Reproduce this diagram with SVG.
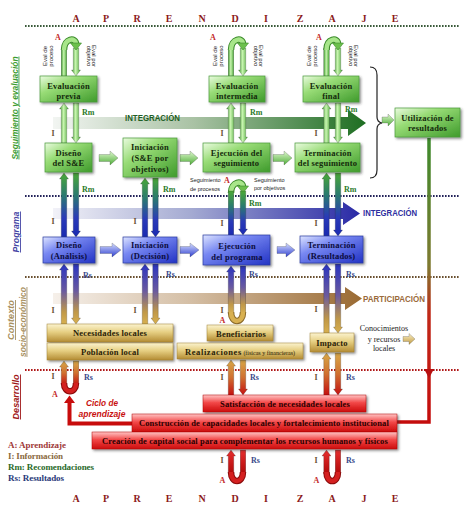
<svg xmlns="http://www.w3.org/2000/svg" width="474" height="517" viewBox="0 0 474 517">
<defs>
<style>
.bt{font-family:"Liberation Serif",serif;font-weight:bold;font-size:8.5px;text-anchor:middle;letter-spacing:0.2px}
.gt{fill:#142a0c}.blt{fill:#0c0c3c}.yt{fill:#2a1e08}.rt{fill:#2a0000}
.lbl{font-family:"Liberation Serif",serif;font-weight:bold;font-size:8px}
.I{fill:#6a5232}.Rm{fill:#2a7a2a}.Rs{fill:#3a4a8a}.A{fill:#c42a2a}
.ap{font-family:"Liberation Serif",serif;font-weight:bold;font-size:10px;fill:#8c1a1a;text-anchor:middle}
.ev{font-family:"Liberation Sans",sans-serif;font-size:6px;fill:#222;text-anchor:middle}
.side{font-family:"Liberation Sans",sans-serif;font-style:italic;font-weight:bold;font-size:9px;text-anchor:middle;text-decoration:underline}
.big{font-family:"Liberation Sans",sans-serif;font-weight:bold;font-size:9.5px}
.dot{fill:none;stroke-width:2;stroke-dasharray:1.6 1.4}
.box{filter:url(#sh)}
.arw{stroke:#222;stroke-opacity:0.45;stroke-width:0.5}
.leg{font-family:"Liberation Serif",serif;font-weight:bold;font-size:9px}
.seg{font-family:"Liberation Sans",sans-serif;font-size:5.5px;fill:#222}
</style>
<linearGradient id="bxG" x1="0" y1="0" x2="1" y2="1"><stop offset="0" stop-color="#eafbe0"/><stop offset="0.35" stop-color="#98dc76"/><stop offset="1" stop-color="#3f9b2c"/></linearGradient>
<linearGradient id="bxB" x1="0" y1="0" x2="1" y2="1"><stop offset="0" stop-color="#dde4ff"/><stop offset="0.35" stop-color="#7888f2"/><stop offset="1" stop-color="#2233c4"/></linearGradient>
<linearGradient id="bxY" x1="0" y1="0" x2="0" y2="1"><stop offset="0" stop-color="#fbf3cf"/><stop offset="0.45" stop-color="#e6cf82"/><stop offset="1" stop-color="#b48c34"/></linearGradient>
<linearGradient id="bxR" x1="0" y1="0" x2="0" y2="1"><stop offset="0" stop-color="#ffc4c4"/><stop offset="0.45" stop-color="#f24848"/><stop offset="1" stop-color="#cc0a0a"/></linearGradient>
<linearGradient id="aG" x1="0" y1="0" x2="1" y2="0"><stop offset="0" stop-color="#3d9a2c"/><stop offset="0.45" stop-color="#c8f4b0"/><stop offset="1" stop-color="#4aa836"/></linearGradient>
<linearGradient id="aGB" x1="0" y1="0" x2="0" y2="1"><stop offset="0" stop-color="#4aa836"/><stop offset="0.35" stop-color="#2a7a70"/><stop offset="0.7" stop-color="#2a3ab8"/><stop offset="1" stop-color="#1a2ab0"/></linearGradient>
<linearGradient id="aBY" x1="0" y1="0" x2="0" y2="1"><stop offset="0" stop-color="#2a34c0"/><stop offset="0.45" stop-color="#6a5aa0"/><stop offset="0.8" stop-color="#c09848"/><stop offset="1" stop-color="#d8b050"/></linearGradient>
<linearGradient id="aYR" x1="0" y1="0" x2="0" y2="1"><stop offset="0" stop-color="#d8a848"/><stop offset="0.5" stop-color="#d07030"/><stop offset="1" stop-color="#c41010"/></linearGradient>
<linearGradient id="aR" x1="0" y1="0" x2="0" y2="1"><stop offset="0" stop-color="#e83030"/><stop offset="1" stop-color="#b00808"/></linearGradient>
<linearGradient id="hG" x1="0" y1="0" x2="1" y2="0"><stop offset="0" stop-color="#f2f5f2"/><stop offset="0.45" stop-color="#a9c2a4"/><stop offset="1" stop-color="#1e6e22"/></linearGradient>
<linearGradient id="hB" x1="0" y1="0" x2="1" y2="0"><stop offset="0" stop-color="#f2f2f8"/><stop offset="0.45" stop-color="#a4aad2"/><stop offset="1" stop-color="#2a2aa6"/></linearGradient>
<linearGradient id="hP" x1="0" y1="0" x2="1" y2="0"><stop offset="0" stop-color="#f6f0ea"/><stop offset="0.45" stop-color="#d4bea4"/><stop offset="1" stop-color="#9a6a32"/></linearGradient>
<linearGradient id="uLine" gradientUnits="userSpaceOnUse" x1="0" y1="137" x2="0" y2="422"><stop offset="0" stop-color="#3c8a2c"/><stop offset="0.45" stop-color="#7e7a30"/><stop offset="0.62" stop-color="#c02818"/><stop offset="1" stop-color="#c40c0c"/></linearGradient>
<linearGradient id="sG" x1="0" y1="0" x2="0" y2="1"><stop offset="0" stop-color="#e0f8d0"/><stop offset="1" stop-color="#4fae38"/></linearGradient>
<linearGradient id="sB" x1="0" y1="0" x2="0" y2="1"><stop offset="0" stop-color="#d8e0ff"/><stop offset="1" stop-color="#3040d0"/></linearGradient>
<linearGradient id="sY" x1="0" y1="0" x2="0" y2="1"><stop offset="0" stop-color="#fbf0c8"/><stop offset="1" stop-color="#c09a40"/></linearGradient>
<filter id="sh" x="-10%" y="-15%" width="130%" height="150%"><feDropShadow dx="1.5" dy="1.5" stdDeviation="0.8" flood-color="#333" flood-opacity="0.55"/></filter>
</defs>

<rect width="474" height="517" fill="#ffffff"/>

<!-- A P R E N D I Z A J E -->
<g id="aprendizaje-top" class="ap">
<text x="76" y="21.5">A</text><text x="106" y="21.5">P</text><text x="137" y="21.5">R</text><text x="169" y="21.5">E</text><text x="202" y="21.5">N</text><text x="235" y="21.5">D</text><text x="266" y="21.5">I</text><text x="300" y="21.5">Z</text><text x="332" y="21.5">A</text><text x="364" y="21.5">J</text><text x="395" y="21.5">E</text>
</g>
<g id="aprendizaje-bottom" class="ap">
<text x="76" y="501.5">A</text><text x="106" y="501.5">P</text><text x="137" y="501.5">R</text><text x="169" y="501.5">E</text><text x="202" y="501.5">N</text><text x="235" y="501.5">D</text><text x="266" y="501.5">I</text><text x="300" y="501.5">Z</text><text x="332" y="501.5">A</text><text x="364" y="501.5">J</text><text x="395" y="501.5">E</text>
</g>

<!-- dotted separators -->
<g id="separators">
<line class="dot" x1="25" y1="26" x2="460" y2="26" stroke="#3a5a3a"/>
<line class="dot" x1="25" y1="196" x2="460" y2="196" stroke="#23235a"/>
<line class="dot" x1="25" y1="277" x2="460" y2="277" stroke="#6a5030"/>
<line class="dot" x1="25" y1="370" x2="460" y2="370" stroke="#b01818"/>
</g>

<!-- side labels -->
<g id="side-labels">
<text class="side" fill="#3c9c30" transform="translate(17.5,108) rotate(-90)" textLength="103" lengthAdjust="spacingAndGlyphs">Seguimiento y evaluación</text>
<text class="side" fill="#4444a4" transform="translate(19,232) rotate(-90)" textLength="41" lengthAdjust="spacingAndGlyphs">Programa</text>
<text class="side" fill="#a89060" transform="translate(14,320) rotate(-90)" textLength="40" lengthAdjust="spacingAndGlyphs">Contexto</text>
<text class="side" fill="#a89060" transform="translate(25.5,322) rotate(-90)" textLength="70" lengthAdjust="spacingAndGlyphs">socio-económico</text>
<text class="side" fill="#a01818" transform="translate(19,397) rotate(-90)" textLength="45" lengthAdjust="spacingAndGlyphs">Desarrollo</text>
</g>

<g id="connectors">
<!-- big flow arrows -->
<path d="M53,117 H348 V110 L366,123 L348,136 V129 H53 Z" fill="url(#hG)"/>
<path d="M53,208 H343 V202 L360,213.5 L343,225 V219 H53 Z" fill="url(#hB)"/>
<path d="M53,293 H345 V287 L362,298.5 L345,310 V304 H53 Z" fill="url(#hP)"/>

<!-- utilizacion feedback line -->
<path d="M429,138 V422 H396" fill="none" stroke="url(#uLine)" stroke-width="3.5"/>
<polygon points="424,369 434,369 429,378" fill="#b81010"/>

<!-- ciclo de aprendizaje L arrow -->
<path d="M133,423.5 H69.5 V402" fill="none" stroke="#c80c0c" stroke-width="4"/>
<polygon points="64,403 75,403 69.5,395.5" fill="#c80c0c"/>

<!-- brace and arrow to Utilizacion -->
<path d="M370,67 Q377,67 377,75 L377,117 Q377,122 382,123 Q377,124 377,129 L377,170 Q377,178 370,178" fill="none" stroke="#222" stroke-width="1.2"/>
<path class="arw" d="M382,117 H388 V114 L394,120 L388,126 V123 H382 Z" fill="url(#sG)"/>

<!-- small horizontal arrows -->
<path class="arw" d="M99,154.5 H110 V151 L118,158 L110,165 V161.5 H99 Z" fill="url(#sG)"/>
<path class="arw" d="M180,154.5 H190 V151 L198,158 L190,165 V161.5 H180 Z" fill="url(#sG)"/>
<path class="arw" d="M273,154.5 H284 V151 L292,158 L284,165 V161.5 H273 Z" fill="url(#sG)"/>
<path class="arw" d="M100,246.5 H112 V243 L121,250 L112,257 V253.5 H100 Z" fill="url(#sB)"/>
<path class="arw" d="M180,246.5 H190 V243 L199,250 L190,257 V253.5 H180 Z" fill="url(#sB)"/>
<path class="arw" d="M277,246.5 H286 V243 L295,250 L286,257 V253.5 H277 Z" fill="url(#sB)"/>
<path class="arw" d="M403,336.5 H409 V333.5 L415,339 L409,344.5 V341.5 H403 Z" fill="url(#sY)"/>

<!-- top section: evaluation loops -->
<g fill="url(#aG)" class="arw">
<rect x="61.25" y="48" width="5.5" height="28"/>
<path d="M73.25,48V70H71.5L76,76L80.5,70H78.75V48Z"/>
<rect x="228.25" y="48" width="5.5" height="28"/>
<path d="M240.25,48V70H238.5L243,76L247.5,70H245.75V48Z"/>
<rect x="323.75" y="48" width="5.5" height="28"/>
<path d="M335.25,48V70H333.5L338,76L342.5,70H340.75V48Z"/>
</g>
<g fill="none" stroke="#3a8a2a" stroke-width="6.5">
<path d="M64,50 C64,38 76,37 76,44"/>
<path d="M231,50 C231,38 243,37 243,44"/>
<path d="M326.5,50 C326.5,38 338,37 338,44"/>
<path d="M231,193 C231,181 243,180 243,187"/>
</g>
<g fill="none" stroke="#a8e68a" stroke-width="4.5">
<path d="M64,50 C64,38 76,37 76,44"/>
<path d="M231,50 C231,38 243,37 243,44"/>
<path d="M326.5,50 C326.5,38 338,37 338,44"/>
<path d="M231,193 C231,181 243,180 243,187"/>
</g>
<g fill="#6cc04c" stroke="#3a8a2a" stroke-width="0.6">
<polygon points="70.5,43 81.5,43 76,50"/>
<polygon points="237.5,43 248.5,43 243,50"/>
<polygon points="332.5,43 343.5,43 338,50"/>
<polygon points="237.5,186 248.5,186 243,193"/>
</g>

<!-- section A -->
<g fill="url(#aG)" class="arw">
<path d="M61.25,143V109H59.5L64,103L68.5,109H66.75V143Z"/>
<path d="M73.25,103V137H71.5L76,143L80.5,137H78.75V103Z"/>
<path d="M228.25,143V109H226.5L231,103L235.5,109H233.75V143Z"/>
<path d="M240.25,103V137H238.5L243,143L247.5,137H245.75V103Z"/>
<path d="M323.75,143V109H322L326.5,103L331,109H329.25V143Z"/>
<path d="M335.25,103V137H333.5L338,143L342.5,137H340.75V103Z"/>
</g>

<!-- section B -->
<g fill="url(#aGB)" class="arw">
<path d="M61.25,237V179H59.5L64,173L68.5,179H66.75V237Z"/>
<path d="M73.25,173V231H71.5L76,237L80.5,231H78.75V173Z"/>
<path d="M142.25,237V184H140.5L145,178L149.5,184H147.75V237Z"/>
<path d="M152.75,178V231H151L155.5,237L160,231H158.25V178Z"/>
<rect x="228.25" y="191" width="5.5" height="44"/>
<path d="M240.25,191V229H238.5L243,235L247.5,229H245.75V191Z"/>
<path d="M323.75,236V179H322L326.5,173L331,179H329.25V236Z"/>
<path d="M335.25,173V230H333.5L338,236L342.5,230H340.75V173Z"/>
</g>

<!-- section C -->
<g fill="url(#aBY)" class="arw">
<path d="M61.25,324V270H59.5L64,264L68.5,270H66.75V324Z"/>
<path d="M73.25,264V318H71.5L76,324L80.5,318H78.75V264Z"/>
<path d="M142.25,324V270H140.5L145,264L149.5,270H147.75V324Z"/>
<path d="M152.75,264V318H151L155.5,324L160,318H158.25V264Z"/>
<path d="M228.25,314V272H226.5L231,266L235.5,272H233.75V314Z"/>
<rect x="240.25" y="266" width="5.5" height="48"/>
<path d="M323.75,333V270H322L326.5,264L331,270H329.25V333Z"/>
<path d="M335.25,264V327H333.5L338,333L342.5,327H340.75V264Z"/>
</g>
<path d="M243,312 C243,324 231,324 231,312" fill="none" stroke="#8a6a2a" stroke-width="6.5"/>
<path d="M243,312 C243,324 231,324 231,312" fill="none" stroke="#d8b050" stroke-width="4.5"/>

<!-- section D -->
<g fill="url(#aYR)" class="arw">
<path d="M61.25,385V367H59.5L64,361L68.5,367H66.75V385Z"/>
<rect x="73.25" y="361" width="5.5" height="24"/>
<path d="M228.25,395V366H226.5L231,360L235.5,366H233.75V395Z"/>
<path d="M240.25,360V389H238.5L243,395L247.5,389H245.75V360Z"/>
<path d="M323.75,395V359H322L326.5,353L331,359H329.25V395Z"/>
<path d="M335.25,353V389H333.5L338,395L342.5,389H340.75V353Z"/>
</g>
<path d="M76,383 C76,394 64,394 64,383" fill="none" stroke="#8a0a0a" stroke-width="6.5"/>
<path d="M76,383 C76,394 64,394 64,383" fill="none" stroke="#d42020" stroke-width="4.5"/>

<!-- section E -->
<g fill="url(#aR)" class="arw">
<path d="M228.25,474V456H226.5L231,450L235.5,456H233.75V474Z"/>
<rect x="240.25" y="450" width="5.5" height="24"/>
<path d="M323.75,474V456H322L326.5,450L331,456H329.25V474Z"/>
<rect x="335.25" y="450" width="5.5" height="24"/>
</g>
<g fill="none" stroke="#8a0a0a" stroke-width="6.5">
<path d="M243,472 C243,484 231,484 231,472"/>
<path d="M338,472 C338,484 326.5,484 326.5,472"/>
</g>
<g fill="none" stroke="#d42020" stroke-width="4.5">
<path d="M243,472 C243,484 231,484 231,472"/>
<path d="M338,472 C338,484 326.5,484 326.5,472"/>
</g>
</g>

<!-- flow labels -->
<g id="flow-labels">
<text class="big" x="125" y="121" fill="#1f5f25" textLength="55" lengthAdjust="spacingAndGlyphs">INTEGRACIÓN</text>
<text class="big" x="363" y="216" fill="#2e2ea0" textLength="54" lengthAdjust="spacingAndGlyphs">INTEGRACIÓN</text>
<text class="big" x="363" y="302" fill="#9a6a3a" textLength="62" lengthAdjust="spacingAndGlyphs">PARTICIPACIÓN</text>
</g>

<!-- eval loop labels -->
<g id="eval-labels">
<g class="ev" transform="translate(47,56) rotate(-90)"><text x="0" y="0">Eval de</text><text x="0" y="5.5">proceso</text></g>
<g class="ev" transform="translate(92,56) rotate(90)"><text x="0" y="0">Eval por</text><text x="0" y="5.5">objetivo</text></g>
<g class="ev" transform="translate(217,56) rotate(-90)"><text x="0" y="0">Eval de</text><text x="0" y="5.5">proceso</text></g>
<g class="ev" transform="translate(259,56) rotate(90)"><text x="0" y="0">Eval por</text><text x="0" y="5.5">objetivo</text></g>
<g class="ev" transform="translate(311,56) rotate(-90)"><text x="0" y="0">Eval de</text><text x="0" y="5.5">proceso</text></g>
<g class="ev" transform="translate(354,56) rotate(90)"><text x="0" y="0">Eval por</text><text x="0" y="5.5">objetivo</text></g>
<text class="seg" x="190" y="182">Seguimiento</text><text class="seg" x="190" y="191">de procesos</text>
<text class="seg" x="254" y="182">Seguimiento</text><text class="seg" x="254" y="190">por objetivos</text>
</g>

<!-- I / Rm / Rs / A labels -->
<g id="arrow-labels" class="lbl">
<text class="A" x="55" y="40">A</text><text class="A" x="210" y="40">A</text><text class="A" x="316" y="40">A</text>
<text class="Rm" x="82" y="115">Rm</text><text class="Rm" x="250" y="115">Rm</text><text class="Rm" x="345" y="112">Rm</text>
<text class="I" x="51.5" y="136">I</text><text class="I" x="220.5" y="136">I</text><text class="I" x="314.5" y="136">I</text>
<text class="Rm" x="82" y="192">Rm</text><text class="Rm" x="163" y="192">Rm</text><text class="Rm" x="249" y="206">Rm</text><text class="Rm" x="344" y="192">Rm</text>
<text class="A" x="224" y="183">A</text>
<text class="I" x="51.5" y="224">I</text><text class="I" x="133.5" y="224">I</text><text class="I" x="220.5" y="226">I</text><text class="I" x="314.5" y="226">I</text>
<text class="Rs" x="83" y="278">Rs</text><text class="Rs" x="166" y="277">Rs</text><text class="Rs" x="249" y="277">Rs</text><text class="Rs" x="346" y="277">Rs</text>
<text class="I" x="51.5" y="313">I</text><text class="I" x="133.5" y="313">I</text><text class="I" x="220.5" y="313">I</text><text class="I" x="314.5" y="312">I</text>
<text class="A" x="219.5" y="323">A</text>
<text class="I" x="51.5" y="379">I</text><text class="I" x="220.5" y="380">I</text><text class="I" x="314.5" y="380">I</text>
<text class="Rs" x="84" y="380">Rs</text><text class="Rs" x="250" y="380">Rs</text><text class="Rs" x="346" y="380">Rs</text>
<text class="A" x="52" y="397">A</text>
<text class="I" x="220.5" y="463">I</text><text class="I" x="314.5" y="463">I</text>
<text class="Rs" x="251" y="463">Rs</text><text class="Rs" x="346" y="463">Rs</text>
<text class="A" x="219.5" y="483">A</text><text class="A" x="313.5" y="483">A</text>
</g>

<!-- green nodes -->
<g id="eval-previa"><rect class="box" x="40" y="76" width="57" height="26" fill="url(#bxG)" stroke="#4a9a3a" stroke-width="0.7"/><text class="bt gt" x="68.5" y="89">Evaluación</text><text class="bt gt" x="68.5" y="98.5">previa</text></g>
<g id="eval-intermedia"><rect class="box" x="209" y="76" width="56" height="26" fill="url(#bxG)" stroke="#4a9a3a" stroke-width="0.7"/><text class="bt gt" x="237" y="89">Evaluación</text><text class="bt gt" x="237" y="98.5">intermedia</text></g>
<g id="eval-final"><rect class="box" x="303" y="76" width="56" height="26" fill="url(#bxG)" stroke="#4a9a3a" stroke-width="0.7"/><text class="bt gt" x="331" y="89">Evaluación</text><text class="bt gt" x="331" y="98.5">final</text></g>
<g id="utilizacion"><rect class="box" x="395" y="108" width="65" height="29" fill="url(#bxG)" stroke="#4a9a3a" stroke-width="0.7"/><text class="bt gt" x="427.5" y="121">Utilización de</text><text class="bt gt" x="427.5" y="131">resultados</text></g>
<g id="diseno-se"><rect class="box" x="45" y="143" width="47" height="29" fill="url(#bxG)" stroke="#4a9a3a" stroke-width="0.7"/><text class="bt gt" x="68.5" y="156">Diseño</text><text class="bt gt" x="68.5" y="166">del S&amp;E</text></g>
<g id="iniciacion-se"><rect class="box" x="123" y="138" width="54" height="39" fill="url(#bxG)" stroke="#4a9a3a" stroke-width="0.7"/><text class="bt gt" x="150" y="150">Iniciación</text><text class="bt gt" x="150" y="161">(S&amp;E por</text><text class="bt gt" x="150" y="171.5">objetivos)</text></g>
<g id="ejecucion-seg"><rect class="box" x="203" y="143" width="67" height="29" fill="url(#bxG)" stroke="#4a9a3a" stroke-width="0.7"/><text class="bt gt" x="236.5" y="156">Ejecución del</text><text class="bt gt" x="236.5" y="166">seguimiento</text></g>
<g id="terminacion-seg"><rect class="box" x="295" y="143" width="65" height="29" fill="url(#bxG)" stroke="#4a9a3a" stroke-width="0.7"/><text class="bt gt" x="327.5" y="156">Terminación</text><text class="bt gt" x="327.5" y="166">del seguimiento</text></g>

<!-- blue nodes -->
<g id="diseno-prog"><rect class="box" x="43" y="237" width="52" height="26" fill="url(#bxB)" stroke="#2a3aa0" stroke-width="0.7"/><text class="bt blt" x="69" y="248">Diseño</text><text class="bt blt" x="69" y="259">(Análisis)</text></g>
<g id="iniciacion-prog"><rect class="box" x="123" y="237" width="54" height="26" fill="url(#bxB)" stroke="#2a3aa0" stroke-width="0.7"/><text class="bt blt" x="150" y="248">Iniciación</text><text class="bt blt" x="150" y="259">(Decisión)</text></g>
<g id="ejecucion-prog"><rect class="box" x="203" y="235" width="67" height="30" fill="url(#bxB)" stroke="#2a3aa0" stroke-width="0.7"/><text class="bt blt" x="237" y="249">Ejecución</text><text class="bt blt" x="237" y="260">del programa</text></g>
<g id="terminacion-prog"><rect class="box" x="300" y="236" width="63" height="27" fill="url(#bxB)" stroke="#2a3aa0" stroke-width="0.7"/><text class="bt blt" x="331.5" y="248">Terminación</text><text class="bt blt" x="331.5" y="259">(Resultados)</text></g>

<!-- yellow nodes -->
<g id="necesidades"><rect class="box" x="47" y="324" width="126" height="18" fill="url(#bxY)" stroke="#a08030" stroke-width="0.5"/><text class="bt yt" x="110" y="336">Necesidades locales</text></g>
<g id="poblacion"><rect class="box" x="47" y="343" width="126" height="17" fill="url(#bxY)" stroke="#a08030" stroke-width="0.5"/><text class="bt yt" x="110" y="355">Población local</text></g>
<g id="beneficiarios"><rect class="box" x="207" y="325" width="66" height="16" fill="url(#bxY)" stroke="#a08030" stroke-width="0.5"/><text class="bt yt" x="241" y="336.5">Beneficiarios</text></g>
<g id="realizaciones"><rect class="box" x="177" y="343" width="126" height="16" fill="url(#bxY)" stroke="#a08030" stroke-width="0.5"/><text class="bt yt" x="240" y="354.5"><tspan letter-spacing="0.6">Realizaciones</tspan><tspan font-weight="normal" font-size="6px" letter-spacing="0"> (físicas y financieras)</tspan></text></g>
<g id="impacto"><rect class="box" x="310" y="333" width="44" height="19" fill="url(#bxY)" stroke="#a08030" stroke-width="0.5"/><text class="bt yt" x="332" y="346">Impacto</text></g>
<g id="conocimientos" font-family="Liberation Serif, serif" font-size="8px" fill="#222" text-anchor="middle"><text x="384" y="330.5">Conocimientos</text><text x="384" y="341.5">y recursos</text><text x="384" y="350.5">locales</text></g>

<!-- red nodes -->
<g id="satisfaccion"><rect class="box" x="203" y="395" width="163" height="17" fill="url(#bxR)" stroke="#b00000" stroke-width="0.5"/><text class="bt rt" x="285" y="407" font-size="8px" textLength="130">Satisfacción de necesidades locales</text></g>
<g id="construccion"><rect class="box" x="132" y="414" width="265" height="18" fill="url(#bxR)" stroke="#b00000" stroke-width="0.5"/><text class="bt rt" x="264" y="426" font-size="8px" textLength="250">Construcción de capacidades locales y fortalecimiento institucional</text></g>
<g id="creacion"><rect class="box" x="92" y="432" width="305" height="17" fill="url(#bxR)" stroke="#b00000" stroke-width="0.5"/><text class="bt rt" x="245" y="443.5" font-size="8px" textLength="286">Creación de capital social para complementar los recursos humanos y físicos</text></g>

<g id="ciclo-label" font-family="Liberation Sans, sans-serif" font-style="italic" font-weight="bold" font-size="9px" fill="#c81010" text-anchor="middle">
<text x="102" y="406" textLength="32" lengthAdjust="spacingAndGlyphs">Ciclo de</text>
<text x="102" y="417" textLength="47" lengthAdjust="spacingAndGlyphs">aprendizaje</text>
</g>

<!-- legend -->
<g id="legend" class="leg">
<text x="8" y="448" fill="#a03838" textLength="58">A: Aprendizaje</text>
<text x="8" y="459" fill="#8a6a40" textLength="55">I: Información</text>
<text x="8" y="470" fill="#2a6a2a" textLength="86">Rm: Recomendaciones</text>
<text x="8" y="480.5" fill="#2a3a7a" textLength="56">Rs: Resultados</text>
</g>
</svg>
